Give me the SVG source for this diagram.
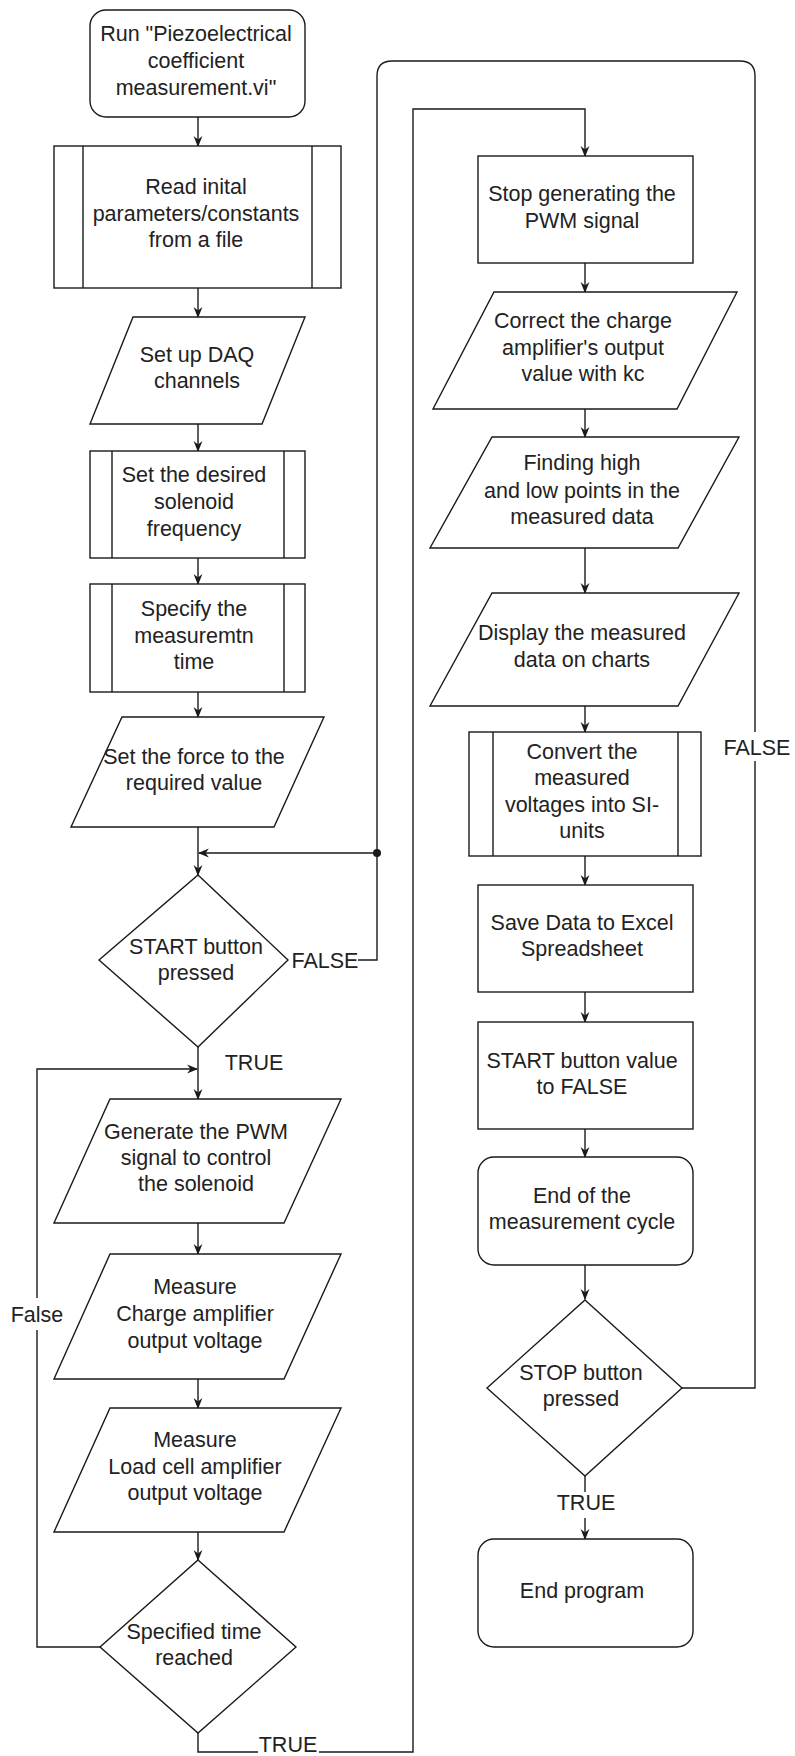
<svg xmlns="http://www.w3.org/2000/svg" width="795" height="1756" viewBox="0 0 795 1756">
<defs>
<style>
.s{fill:#fff;stroke:#1a1a1a;stroke-width:1.4}
.l{fill:none;stroke:#1a1a1a;stroke-width:1.4}
.a{fill:none;stroke:#1a1a1a;stroke-width:1.4;marker-end:url(#ah)}
text{font-family:"Liberation Sans",Arial,Helvetica,sans-serif;font-size:21.5px;fill:#222;text-anchor:middle}
</style>
<marker id="ah" markerUnits="userSpaceOnUse" viewBox="0 0 10 10" refX="9" refY="5" markerWidth="11" markerHeight="11" orient="auto">
<path d="M0,1 L10,5 L0,9 L3,5 Z" fill="#1a1a1a"/>
</marker>
</defs>
<rect width="795" height="1756" fill="#fff"/>

<g id="connectors">
<path class="a" d="M198,117 V146"/>
<path class="a" d="M198,288 V317"/>
<path class="a" d="M198,424 V451"/>
<path class="a" d="M198,558 V584"/>
<path class="a" d="M198,692 V717"/>
<path class="a" d="M198,827 V875"/>
<path class="a" d="M377,853 H199"/>
<path class="l" d="M358,960 H377 V853"/>
<circle cx="377" cy="853" r="4" fill="#1a1a1a"/>
<path class="l" d="M682,1388 H755 V761"/>
<path class="l" d="M755,732 V76 Q755,61 740,61 H392 Q377,61 377,76 V853"/>
<path class="a" d="M198,1047 V1099"/>
<path class="l" d="M100,1647 H37 V1330"/>
<path class="a" d="M37,1298 V1069 H197"/>
<path class="a" d="M198,1223 V1254"/>
<path class="a" d="M198,1379 V1408"/>
<path class="a" d="M198,1532 V1560"/>
<path class="l" d="M198,1733 V1752 H258"/>
<path class="a" d="M319,1752 H413 V109 H585 V156"/>
<path class="a" d="M585,263 V292"/>
<path class="a" d="M585,409 V437"/>
<path class="a" d="M585,548 V593"/>
<path class="a" d="M585,706 V732"/>
<path class="a" d="M585,856 V885"/>
<path class="a" d="M585,992 V1022"/>
<path class="a" d="M585,1129 V1157"/>
<path class="a" d="M585,1265 V1299"/>
<path class="l" d="M585,1476 V1492"/>
<path class="a" d="M585,1518 V1539"/>
<text x="325" y="968">FALSE</text>
<text x="254" y="1070">TRUE</text>
<text x="37" y="1322">False</text>
<text x="288" y="1752">TRUE</text>
<text x="757" y="755">FALSE</text>
<text x="586" y="1510">TRUE</text>
</g>

<g id="n_start">
<rect class="s" x="90" y="10" width="215" height="107" rx="16"/>
<text x="196"><tspan x="196" y="41">Run "Piezoelectrical</tspan><tspan x="196" y="68">coefficient</tspan><tspan x="196" y="95">measurement.vi"</tspan></text>
</g>

<g id="n_read">
<rect class="s" x="54" y="146" width="287" height="142"/>
<path class="l" d="M83,146 V288 M312,146 V288"/>
<text x="196"><tspan x="196" y="194">Read inital</tspan><tspan x="196" y="221">parameters/constants</tspan><tspan x="196" y="247">from a file</tspan></text>
</g>

<g id="n_daq">
<path class="s" d="M133,317 H305 L262,424 H90 Z"/>
<text x="197"><tspan x="197" y="362">Set up DAQ</tspan><tspan x="197" y="388">channels</tspan></text>
</g>

<g id="n_freq">
<rect class="s" x="90" y="451" width="215" height="107"/>
<path class="l" d="M112,451 V558 M284,451 V558"/>
<text x="194"><tspan x="194" y="482">Set the desired</tspan><tspan x="194" y="509">solenoid</tspan><tspan x="194" y="536">frequency</tspan></text>
</g>

<g id="n_time">
<rect class="s" x="90" y="584" width="215" height="108"/>
<path class="l" d="M112,584 V692 M284,584 V692"/>
<text x="194"><tspan x="194" y="616">Specify the</tspan><tspan x="194" y="643">measuremtn</tspan><tspan x="194" y="669">time</tspan></text>
</g>

<g id="n_force">
<path class="s" d="M122,717 H324 L274,827 H71 Z"/>
<text x="194"><tspan x="194" y="764">Set the force to the</tspan><tspan x="194" y="790">required value</tspan></text>
</g>

<g id="n_startbtn">
<path class="s" d="M198,875 L288,960 L198,1047 L99,960 Z"/>
<text x="196"><tspan x="196" y="954">START button</tspan><tspan x="196" y="980">pressed</tspan></text>
</g>

<g id="n_pwm">
<path class="s" d="M110,1099 H341 L284,1223 H54 Z"/>
<text x="196"><tspan x="196" y="1139">Generate the PWM</tspan><tspan x="196" y="1165">signal to control</tspan><tspan x="196" y="1191">the solenoid</tspan></text>
</g>

<g id="n_charge">
<path class="s" d="M110,1254 H341 L284,1379 H54 Z"/>
<text x="195"><tspan x="195" y="1294">Measure</tspan><tspan x="195" y="1321">Charge amplifier</tspan><tspan x="195" y="1348">output voltage</tspan></text>
</g>

<g id="n_load">
<path class="s" d="M110,1408 H341 L284,1532 H54 Z"/>
<text x="195"><tspan x="195" y="1447">Measure</tspan><tspan x="195" y="1474">Load cell amplifier</tspan><tspan x="195" y="1500">output voltage</tspan></text>
</g>

<g id="n_specified">
<path class="s" d="M198,1560 L296,1647 L198,1733 L100,1647 Z"/>
<text x="194"><tspan x="194" y="1639">Specified time</tspan><tspan x="194" y="1665">reached</tspan></text>
</g>

<g id="n_stoppwm">
<rect class="s" x="478" y="156" width="215" height="107"/>
<text x="582"><tspan x="582" y="201">Stop generating the</tspan><tspan x="582" y="228">PWM signal</tspan></text>
</g>

<g id="n_correct">
<path class="s" d="M494,292 H737 L677,409 H433 Z"/>
<text x="583"><tspan x="583" y="328">Correct the charge</tspan><tspan x="583" y="355">amplifier's output</tspan><tspan x="583" y="381">value with kc</tspan></text>
</g>

<g id="n_finding">
<path class="s" d="M492,437 H739 L678,548 H430 Z"/>
<text x="582"><tspan x="582" y="470">Finding high</tspan><tspan x="582" y="498">and low points in the</tspan><tspan x="582" y="524">measured data</tspan></text>
</g>

<g id="n_display">
<path class="s" d="M492,593 H739 L678,706 H430 Z"/>
<text x="582"><tspan x="582" y="640">Display the measured</tspan><tspan x="582" y="667">data on charts</tspan></text>
</g>

<g id="n_convert">
<rect class="s" x="469" y="732" width="232" height="124"/>
<path class="l" d="M493,732 V856 M678,732 V856"/>
<text x="582"><tspan x="582" y="759">Convert the</tspan><tspan x="582" y="785">measured</tspan><tspan x="582" y="812">voltages into SI-</tspan><tspan x="582" y="838">units</tspan></text>
</g>

<g id="n_save">
<rect class="s" x="478" y="885" width="215" height="107"/>
<text x="582"><tspan x="582" y="930">Save Data to Excel</tspan><tspan x="582" y="956">Spreadsheet</tspan></text>
</g>

<g id="n_startfalse">
<rect class="s" x="478" y="1022" width="215" height="107"/>
<text x="582"><tspan x="582" y="1068">START button value</tspan><tspan x="582" y="1094">to FALSE</tspan></text>
</g>

<g id="n_endcycle">
<rect class="s" x="478" y="1157" width="215" height="108" rx="16"/>
<text x="582"><tspan x="582" y="1203">End of the</tspan><tspan x="582" y="1229">measurement cycle</tspan></text>
</g>

<g id="n_stopbtn">
<path class="s" d="M585,1300 L682,1388 L585,1476 L487,1388 Z"/>
<text x="581"><tspan x="581" y="1380">STOP button</tspan><tspan x="581" y="1406">pressed</tspan></text>
</g>

<g id="n_end">
<rect class="s" x="478" y="1539" width="215" height="108" rx="16"/>
<text x="582" y="1598">End program</text>
</g>
</svg>
